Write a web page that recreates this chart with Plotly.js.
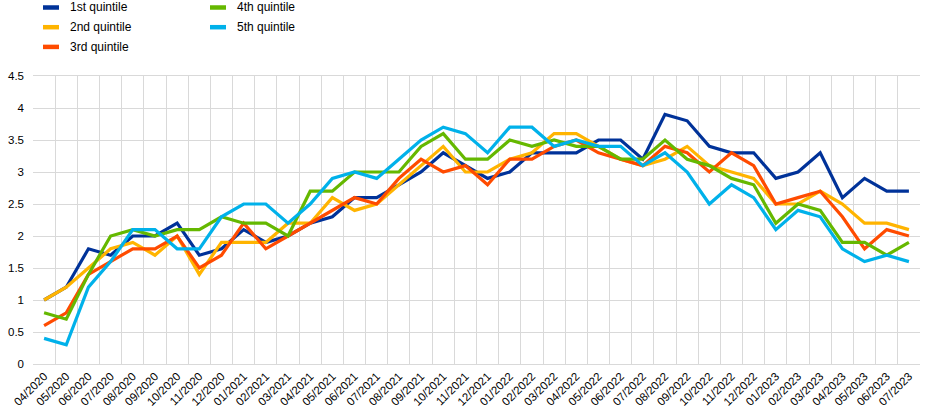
<!DOCTYPE html>
<html>
<head>
<meta charset="utf-8">
<script src="https://cdn.plot.ly/plotly-3.0.1.min.js"></script>
<style>
  html, body { margin: 0; padding: 0; background: #ffffff; }
  #chart { width: 945px; height: 420px; }
</style>
</head>
<body>
<div id="chart"></div>
<script>
const months = [
  "04/2020","05/2020","06/2020","07/2020","08/2020","09/2020","10/2020","11/2020","12/2020",
  "01/2021","02/2021","03/2021","04/2021","05/2021","06/2021","07/2021","08/2021","09/2021","10/2021","11/2021","12/2021",
  "01/2022","02/2022","03/2022","04/2022","05/2022","06/2022","07/2022","08/2022","09/2022","10/2022","11/2022","12/2022",
  "01/2023","02/2023","03/2023","04/2023","05/2023","06/2023","07/2023"
];
const seriesNames = ["1st quintile","2nd quintile","3rd quintile","4th quintile","5th quintile"];
const q1 = [1.0,1.2,1.8,1.7,2.0,2.0,2.2,1.7,1.8,2.1,1.9,2.0,2.2,2.3,2.6,2.6,2.8,3.0,3.3,3.1,2.9,3.0,3.3,3.3,3.3,3.5,3.5,3.2,3.9,3.8,3.4,3.3,3.3,2.9,3.0,3.3,2.6,2.9,2.7,2.7];
const q2 = [1.0,1.2,1.5,1.8,1.9,1.7,2.0,1.4,1.9,1.9,1.9,2.2,2.2,2.6,2.4,2.5,2.8,3.1,3.4,3.0,3.0,3.2,3.3,3.6,3.6,3.4,3.2,3.1,3.2,3.4,3.1,3.0,2.9,2.5,2.5,2.7,2.5,2.2,2.2,2.1];
const q3 = [0.6,0.8,1.4,1.6,1.8,1.8,2.0,1.5,1.7,2.2,1.8,2.0,2.2,2.4,2.6,2.5,2.9,3.2,3.0,3.1,2.8,3.2,3.2,3.4,3.5,3.3,3.2,3.1,3.4,3.3,3.0,3.3,3.1,2.5,2.6,2.7,2.3,1.8,2.1,2.0];
const q4 = [0.8,0.7,1.4,2.0,2.1,2.0,2.1,2.1,2.3,2.2,2.2,2.0,2.7,2.7,3.0,3.0,3.0,3.4,3.6,3.2,3.2,3.5,3.4,3.5,3.4,3.4,3.2,3.2,3.5,3.2,3.1,2.9,2.8,2.2,2.5,2.4,1.9,1.9,1.7,1.9];
const q5 = [0.4,0.3,1.2,1.6,2.1,2.1,1.8,1.8,2.3,2.5,2.5,2.2,2.5,2.9,3.0,2.9,3.2,3.5,3.7,3.6,3.3,3.7,3.7,3.4,3.5,3.4,3.4,3.1,3.3,3.0,2.5,2.8,2.6,2.1,2.4,2.3,1.8,1.6,1.7,1.6];
const yTicks = [0,0.5,1,1.5,2,2.5,3,3.5,4,4.5];
const yTickText = ["0","0.5","1","1.5","2","2.5","3","3.5","4","4.5"];

const colors = ["#003299","#FFB400","#FF4B00","#65B800","#00B1EA"];
const allSeries = [q1,q2,q3,q4,q5];

const W = 945, H = 420;
const M = { l: 33, r: 25, t: 76, b: 56 };
const plotW = W - M.l - M.r, plotH = H - M.t - M.b;
const px2x = px => (px - M.l) / plotW;
const py2y = py => (H - M.b - py) / plotH;

const traces = allSeries.map((vals, i) => ({
  type: "scatter",
  mode: "lines",
  name: seriesNames[i],
  x: months,
  y: vals,
  line: { color: colors[i], width: 3.2 },
  showlegend: false,
  hoverinfo: "x+y+name"
}));

// Two-column legend drawn as shapes + annotations (first column 3 items, second 2)
const shapes = [];
const annotations = [];
seriesNames.forEach((name, i) => {
  const col = i < 3 ? 0 : 1;
  const row = i < 3 ? i : i - 3;
  const dx = col * 167;
  const cy = 7.5 + row * 19.7;
  shapes.push({
    type: "line", xref: "paper", yref: "paper",
    x0: px2x(43 + dx), x1: px2x(59 + dx), y0: py2y(cy), y1: py2y(cy),
    line: { color: colors[i], width: 4.5 }
  });
  annotations.push({
    xref: "paper", yref: "paper", x: px2x(68 + dx), y: py2y(cy),
    xanchor: "left", yanchor: "middle", showarrow: false, text: name,
    font: { family: "Liberation Sans, Arial, sans-serif", size: 12, color: "#000000" }
  });
});

const layout = {
  width: W,
  height: H,
  margin: M,
  paper_bgcolor: "#ffffff",
  plot_bgcolor: "#ffffff",
  font: { family: "Liberation Sans, Arial, sans-serif", size: 11.5, color: "#000000" },
  showlegend: false,
  shapes: shapes,
  annotations: annotations,
  xaxis: {
    type: "category",
    range: [-0.5, months.length - 0.5],
    tickson: "boundaries",
    showgrid: true,
    gridcolor: "#d9d9d9",
    gridwidth: 1,
    ticks: "",
    tickangle: -45,
    tickfont: { size: 11.5 },
    showline: true,
    linecolor: "#d9d9d9",
    mirror: true,
    zeroline: false,
    automargin: false
  },
  yaxis: {
    range: [0, 4.5],
    tickvals: yTicks,
    ticktext: yTickText,
    showgrid: true,
    gridcolor: "#d9d9d9",
    gridwidth: 1,
    zeroline: false,
    showline: false,
    ticks: "",
    ticklabelstandoff: 8,
    automargin: false
  }
};

Plotly.newPlot("chart", traces, layout, { displayModeBar: false, staticPlot: true });
</script>
</body>
</html>
